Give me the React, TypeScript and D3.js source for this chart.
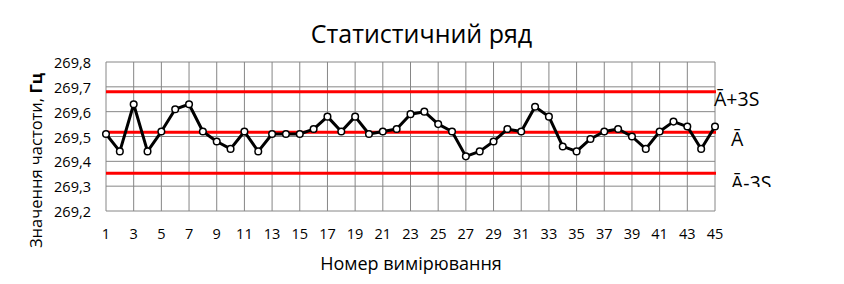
import React from "react";
import * as d3 from "d3";

const measurements: number[] = Array.from({ length: 45 }, (_, i) => i + 1);
const frequencies: number[] = [
  269.51, 269.44, 269.63, 269.44, 269.52, 269.61, 269.63, 269.52, 269.48, 269.45,
  269.52, 269.44, 269.51, 269.51, 269.51, 269.53, 269.58, 269.52, 269.58, 269.51,
  269.52, 269.53, 269.59, 269.6, 269.55, 269.52, 269.42, 269.44, 269.48, 269.53,
  269.52, 269.62, 269.58, 269.46, 269.44, 269.49, 269.52, 269.53, 269.5, 269.45,
  269.52, 269.56, 269.54, 269.45, 269.54,
];
const yTicks: number[] = [269.2, 269.3, 269.4, 269.5, 269.6, 269.7, 269.8];
const xTicks: number[] = measurements.filter((d) => d % 2 === 1);
const meanValue = 269.517;
const upperLimit = 269.68;
const lowerLimit = 269.352;
const limitLabels: string[] = ["\u0100+3S", "\u0100", "\u0100-3S"];

const W = 844;
const H = 284;
const FONT = "'Open Sans', sans-serif";

export default function App() {
  const x = d3.scaleLinear().domain([1, 45]).range([106, 715]);
  const y = d3.scaleLinear().domain([269.2, 269.8]).range([211, 62]);
  const line = d3
    .line<number>()
    .x((_, i) => x(measurements[i]))
    .y((d) => y(d));
  const fmt = (v: number) => v.toFixed(1).replace(".", ",");
  const limits = [upperLimit, meanValue, lowerLimit];
  const labelPos = [
    { x: 714, y: y(upperLimit) + 14 },
    { x: 731, y: y(meanValue) + 14 },
    { x: 731, y: y(lowerLimit) + 17 },
  ];
  return (
    <svg
      width={W}
      height={H}
      style={{ position: "absolute", left: 0, top: 0, background: "#fff" }}
      fontFamily={FONT}
    >
      <defs>
        <clipPath id="lblclip">
          <rect x={0} y={0} width={W} height={187} />
        </clipPath>
      </defs>
      <rect x={0} y={0} width={W} height={H} fill="#fff" />
      <text x={421.5} y={43} textAnchor="middle" fontSize={25} fill="#000">
        Статистичний ряд
      </text>
      {yTicks.map((t) => (
        <line key={"hg" + t} x1={x(1)} x2={x(45)} y1={y(t)} y2={y(t)} stroke="#868686" strokeWidth={1} />
      ))}
      {xTicks.map((t) => (
        <line key={"vg" + t} x1={x(t)} x2={x(t)} y1={y(269.8)} y2={y(269.2)} stroke="#868686" strokeWidth={1} />
      ))}
      {yTicks.map((t) => (
        <text key={"yl" + t} x={91} y={y(t) + 6} textAnchor="end" fontSize={14.5} fill="#000">
          {fmt(t)}
        </text>
      ))}
      {xTicks.map((t) => (
        <text key={"xl" + t} x={x(t)} y={239} textAnchor="middle" fontSize={14.5} fill="#000">
          {t}
        </text>
      ))}
      {limits.map((v, i) => (
        <line key={"lim" + i} x1={x(1)} x2={x(45) + 1} y1={y(v)} y2={y(v)} stroke="#ff0000" strokeWidth={3} />
      ))}
      <path d={line(frequencies) || ""} fill="none" stroke="#000" strokeWidth={3} strokeLinejoin="round" />
      {frequencies.map((v, i) => (
        <circle key={"pt" + i} cx={x(measurements[i])} cy={y(v)} r={3.3} fill="#fff" stroke="#000" strokeWidth={1.5} />
      ))}
      <g clipPath="url(#lblclip)">
        {limitLabels.map((l, i) => (
          <text key={"ll" + i} x={labelPos[i].x} y={labelPos[i].y} fontSize={19.5} fill="#000">
            {l}
          </text>
        ))}
      </g>
      <text x={411} y={269.5} textAnchor="middle" fontSize={18} fill="#000">
        Номер вимірювання
      </text>
      <text transform="translate(41.5,160.5) rotate(-90)" textAnchor="middle" fontSize={16.5} fill="#000">
        Значення частоти, <tspan fontWeight="bold">Гц</tspan>
      </text>
    </svg>
  );
}
